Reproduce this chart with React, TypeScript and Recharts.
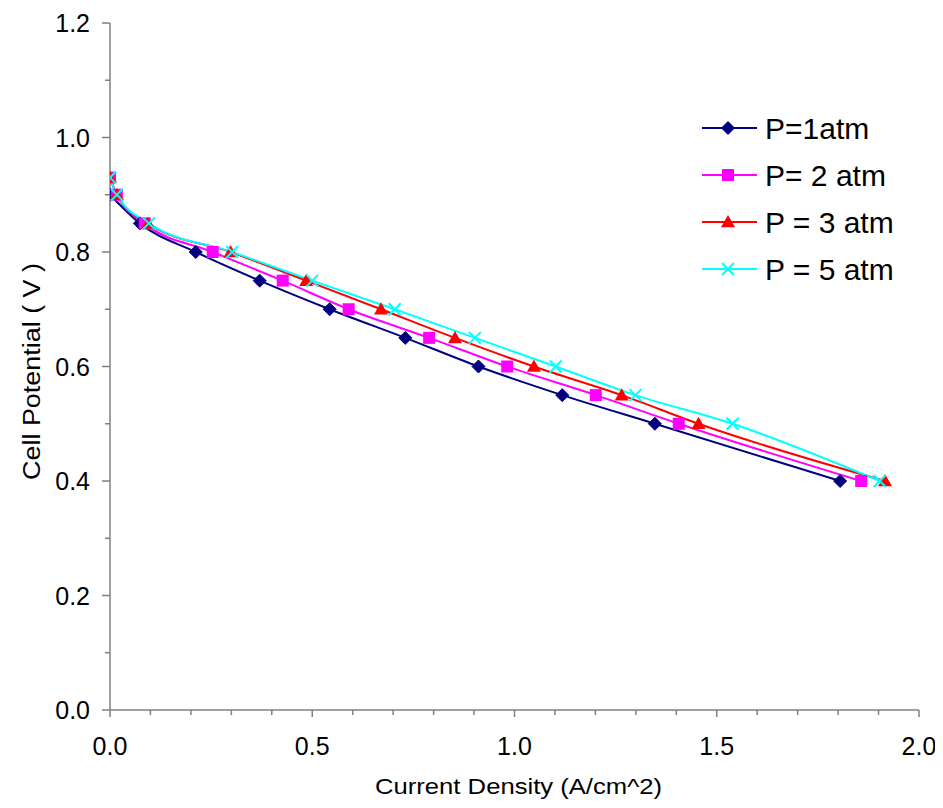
import React from 'react';
import { LineChart, Line, XAxis, YAxis } from 'recharts';

const seriesNames = ['P=1atm', 'P= 2 atm', 'P = 3 atm', 'P = 5 atm'];
const seriesColors = ['#000080', '#FF00FF', '#FF0000', '#00FFFF'];
const seriesShapes = ['diamond', 'square', 'triangle', 'cross'];

const voltage1 = [0.9, 0.85, 0.8, 0.75, 0.7, 0.65, 0.6, 0.55, 0.5, 0.4];
const current1 = [0, 0.074, 0.212, 0.37, 0.543, 0.73, 0.911, 1.118, 1.347, 1.805];

const voltage2 = [0.93, 0.9, 0.85, 0.8, 0.75, 0.7, 0.65, 0.6, 0.55, 0.5, 0.4];
const current2 = [0, 0.017, 0.086, 0.254, 0.427, 0.59, 0.789, 0.982, 1.201, 1.406, 1.857];

const voltage3 = [0.93, 0.9, 0.85, 0.8, 0.75, 0.7, 0.65, 0.6, 0.55, 0.5, 0.4];
const current3 = [0, 0.017, 0.094, 0.298, 0.485, 0.67, 0.853, 1.048, 1.265, 1.455, 1.916];

const voltage5 = [0.93, 0.9, 0.85, 0.8, 0.75, 0.7, 0.65, 0.6, 0.55, 0.5, 0.4];
const current5 = [0, 0.017, 0.096, 0.302, 0.5, 0.704, 0.902, 1.102, 1.299, 1.539, 1.903];

const xTicks = [0, 0.1, 0.2, 0.3, 0.4, 0.5, 0.6, 0.7, 0.8, 0.9, 1.0, 1.1, 1.2, 1.3, 1.4, 1.5, 1.6, 1.7, 1.8, 1.9, 2.0];
const yTicks = [0, 0.1, 0.2, 0.3, 0.4, 0.5, 0.6, 0.7, 0.8, 0.9, 1.0, 1.1, 1.2];

const toPoints = (xs: number[], ys: number[]) => xs.map((x, i) => ({ x, y: ys[i] }));

const series = [
  toPoints(current1, voltage1),
  toPoints(current2, voltage2),
  toPoints(current3, voltage3),
  toPoints(current5, voltage5),
];

const AXIS_COLOR = '#808080';
const FONT = '"Liberation Sans", Arial, sans-serif';

// 808 tall window minus the 8px body margins, so the page never scrolls
const W = 935;
const H = 792;

function Marker({ shape, color, cx, cy }: { shape: string; color: string; cx: number; cy: number }) {
  if (shape === 'diamond') {
    const r = 6.5;
    return <polygon points={`${cx},${cy - r} ${cx + r},${cy} ${cx},${cy + r} ${cx - r},${cy}`} fill={color} stroke={color} />;
  }
  if (shape === 'square') {
    const r = 6;
    return <rect x={cx - r} y={cy - r} width={2 * r} height={2 * r} fill={color} />;
  }
  if (shape === 'triangle') {
    const r = 7;
    return <polygon points={`${cx},${cy - r} ${cx + r},${cy + r * 0.75} ${cx - r},${cy + r * 0.75}`} fill={color} />;
  }
  const r = 6;
  return (
    <g stroke={color} strokeWidth={2}>
      <line x1={cx - r} y1={cy - r} x2={cx + r} y2={cy + r} />
      <line x1={cx - r} y1={cy + r} x2={cx + r} y2={cy - r} />
    </g>
  );
}

const YTick = (props: any) => {
  const { x, y, payload } = props;
  const v = payload.value as number;
  const major = Math.round(v * 10) % 2 === 0;
  return (
    <g>
      <line x1={x - (major ? 8 : 5)} y1={y} x2={x} y2={y} stroke={AXIS_COLOR} strokeWidth={1.5} />
      {major && (
        <text x={x - 20} y={y} dy={9} textAnchor="end" fontSize={25} fontFamily={FONT} fill="#000">
          {v.toFixed(1)}
        </text>
      )}
    </g>
  );
};

const XTick = (props: any) => {
  const { x, y, payload } = props;
  const v = payload.value as number;
  const major = Math.round(v * 10) % 5 === 0;
  return (
    <g>
      <line x1={x} y1={y} x2={x} y2={y + (major ? 7 : 5)} stroke={AXIS_COLOR} strokeWidth={1.5} />
      {major && (
        <text x={x} y={y + 45} textAnchor="middle" fontSize={25} fontFamily={FONT} fill="#000">
          {v.toFixed(1)}
        </text>
      )}
    </g>
  );
};

const Overlay = () => (
  <svg width={W} height={H} style={{ position: 'absolute', left: 0, top: 0, pointerEvents: 'none' }}>
    {seriesNames.map((name, i) => {
      const cy = 120 + i * 47;
      return (
        <g key={name}>
          <line x1={694} y1={cy} x2={749} y2={cy} stroke={seriesColors[i]} strokeWidth={2} />
          <Marker shape={seriesShapes[i]} color={seriesColors[i]} cx={720} cy={cy} />
          <text x={757} y={cy + 11} fontSize={30} fontFamily={FONT} fill="#000">
            {name}
          </text>
        </g>
      );
    })}
    <text
      x={0}
      y={0}
      transform="translate(24, 363.5) rotate(-90)"
      textAnchor="middle"
      dominantBaseline="central"
      fontSize={23}
      fontFamily={FONT}
      textLength={217}
      lengthAdjust="spacingAndGlyphs"
      fill="#000"
    >
      Cell Potential ( V )
    </text>
    <text
      x={510.5}
      y={786}
      textAnchor="middle"
      fontSize={22}
      fontFamily={FONT}
      textLength={287}
      lengthAdjust="spacingAndGlyphs"
      fill="#000"
    >
      Current Density (A/cm^2)
    </text>
  </svg>
);

export default function App() {
  return (
    <div style={{ position: 'relative', width: W, height: H }}>
      <style>{'.recharts-surface { overflow: visible; } html, body { overflow: hidden; }'}</style>
      <LineChart width={W} height={H} margin={{ top: 15, right: 24, left: 0, bottom: 30 }}>
        <XAxis
          dataKey="x"
          type="number"
          domain={[0, 2]}
          ticks={xTicks}
          interval={0}
          tickLine={false}
          tickSize={0}
          tickMargin={0}
          tick={<XTick />}
          stroke={AXIS_COLOR}
          strokeWidth={1.5}
          height={60}
          allowDataOverflow
        />
        <YAxis
          dataKey="y"
          type="number"
          domain={[0, 1.2]}
          ticks={yTicks}
          interval={0}
          tickLine={false}
          tickSize={0}
          tickMargin={0}
          tick={<YTick />}
          stroke={AXIS_COLOR}
          strokeWidth={1.5}
          width={102}
          allowDataOverflow
        />
        {series.map((data, i) => (
          <Line
            key={seriesNames[i]}
            data={data}
            dataKey="y"
            name={seriesNames[i]}
            type="monotone"
            stroke={seriesColors[i]}
            strokeWidth={2}
            isAnimationActive={false}
            dot={(p: any) => (
              <Marker key={`${i}-${p.index}`} shape={seriesShapes[i]} color={seriesColors[i]} cx={p.cx} cy={p.cy} />
            )}
            activeDot={false}
          />
        ))}
      </LineChart>
      <Overlay />
    </div>
  );
}
